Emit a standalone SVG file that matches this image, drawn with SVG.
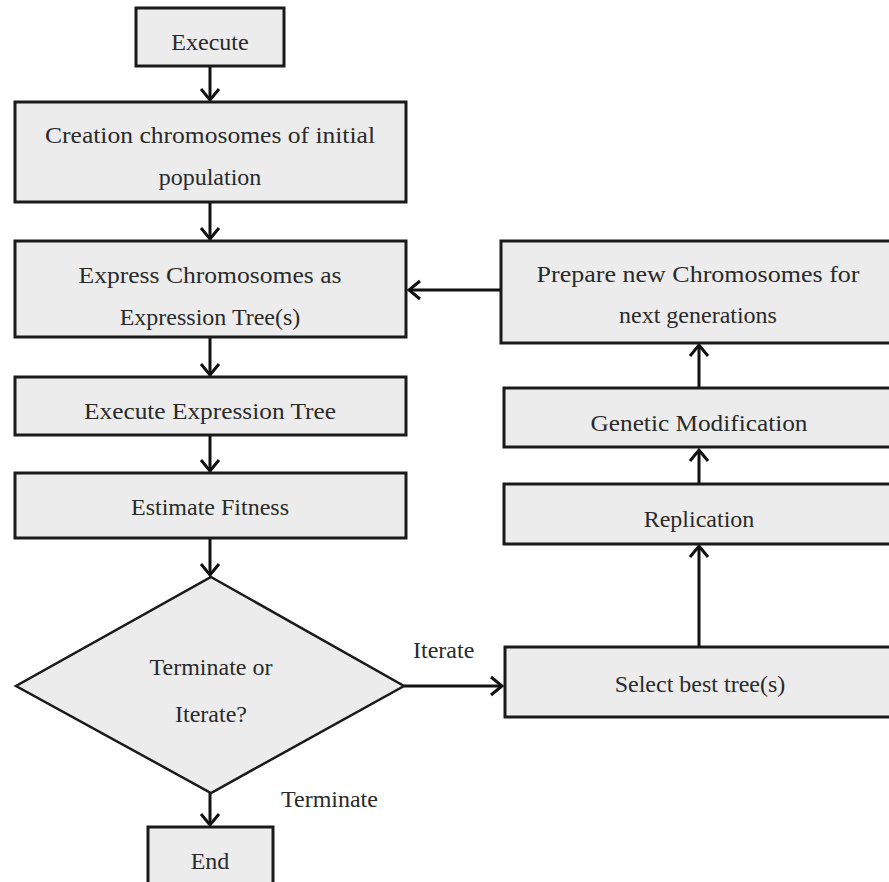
<svg xmlns="http://www.w3.org/2000/svg" width="889" height="882" viewBox="0 0 889 882">
<style>
.box{fill:#ececec;stroke:#1a1a1a;stroke-width:3}
.dia{fill:#ececec;stroke:#1a1a1a;stroke-width:2.5}
.t{font-family:"Liberation Serif","Times New Roman",serif;font-size:24px;fill:#2a2a2a;text-anchor:middle}
.l{font-family:"Liberation Serif","Times New Roman",serif;font-size:24px;fill:#2a2a2a}
.c{fill:none;stroke:#111;stroke-width:3}
</style>
<defs>
<marker id="ah" markerUnits="userSpaceOnUse" markerWidth="30" markerHeight="30" viewBox="-15 -15 30 30" refX="0" refY="0" orient="auto">
<path d="M-11,-9 L0,0 L-11,9" fill="none" stroke="#111" stroke-width="3"/>
</marker>
</defs>
<rect width="889" height="882" fill="#ffffff"/>
<g id="connectors">
<line class="c" x1="210" y1="66" x2="210" y2="100" marker-end="url(#ah)"/>
<line class="c" x1="210" y1="202" x2="210" y2="239" marker-end="url(#ah)"/>
<line class="c" x1="210" y1="337" x2="210" y2="375" marker-end="url(#ah)"/>
<line class="c" x1="210" y1="435" x2="210" y2="471" marker-end="url(#ah)"/>
<line class="c" x1="210" y1="538" x2="210" y2="575" marker-end="url(#ah)"/>
<line class="c" x1="210" y1="793" x2="210" y2="825" marker-end="url(#ah)"/>
<line class="c" x1="404" y1="686" x2="502" y2="686" marker-end="url(#ah)"/>
<line class="c" x1="699" y1="647" x2="699" y2="546" marker-end="url(#ah)"/>
<line class="c" x1="699" y1="484" x2="699" y2="450" marker-end="url(#ah)"/>
<line class="c" x1="699" y1="388" x2="699" y2="345" marker-end="url(#ah)"/>
<line class="c" x1="501" y1="290" x2="409" y2="290" marker-end="url(#ah)"/>
<text class="l" x="413" y="658">Iterate</text>
<text class="l" x="281" y="807">Terminate</text>
</g>
<g id="execute">
<rect class="box" x="136" y="8" width="148" height="58"/>
<text class="t" x="210" y="50">Execute</text>
</g>
<g id="creation">
<rect class="box" x="15" y="102" width="391" height="100"/>
<text class="t" x="210" y="143" textLength="330" lengthAdjust="spacingAndGlyphs">Creation chromosomes of initial</text>
<text class="t" x="210" y="185">population</text>
</g>
<g id="express">
<rect class="box" x="15" y="241" width="391" height="96"/>
<text class="t" x="210" y="283" textLength="263" lengthAdjust="spacingAndGlyphs">Express Chromosomes as</text>
<text class="t" x="210" y="325">Expression Tree(s)</text>
</g>
<g id="exectree">
<rect class="box" x="15" y="377" width="391" height="58"/>
<text class="t" x="210" y="419" textLength="252" lengthAdjust="spacingAndGlyphs">Execute Expression Tree</text>
</g>
<g id="fitness">
<rect class="box" x="15" y="473" width="391" height="65"/>
<text class="t" x="210" y="515">Estimate Fitness</text>
</g>
<g id="decision">
<polygon class="dia" points="211,577 404,686 211,793 16,686"/>
<text class="t" x="211" y="675">Terminate or</text>
<text class="t" x="211" y="722">Iterate?</text>
</g>
<g id="end">
<rect class="box" x="148" y="827" width="125" height="70"/>
<text class="t" x="210" y="869">End</text>
</g>
<g id="select">
<rect class="box" x="505" y="647" width="390" height="70"/>
<text class="t" x="700" y="692">Select best tree(s)</text>
</g>
<g id="replication">
<rect class="box" x="504" y="484" width="390" height="60"/>
<text class="t" x="699" y="527">Replication</text>
</g>
<g id="genetic">
<rect class="box" x="504" y="388" width="390" height="59"/>
<text class="t" x="699" y="431" textLength="217" lengthAdjust="spacingAndGlyphs">Genetic Modification</text>
</g>
<g id="prepare">
<rect class="box" x="501" y="241" width="394" height="102"/>
<text class="t" x="698" y="282" textLength="323" lengthAdjust="spacingAndGlyphs">Prepare new Chromosomes for</text>
<text class="t" x="698" y="323">next generations</text>
</g>
</svg>
